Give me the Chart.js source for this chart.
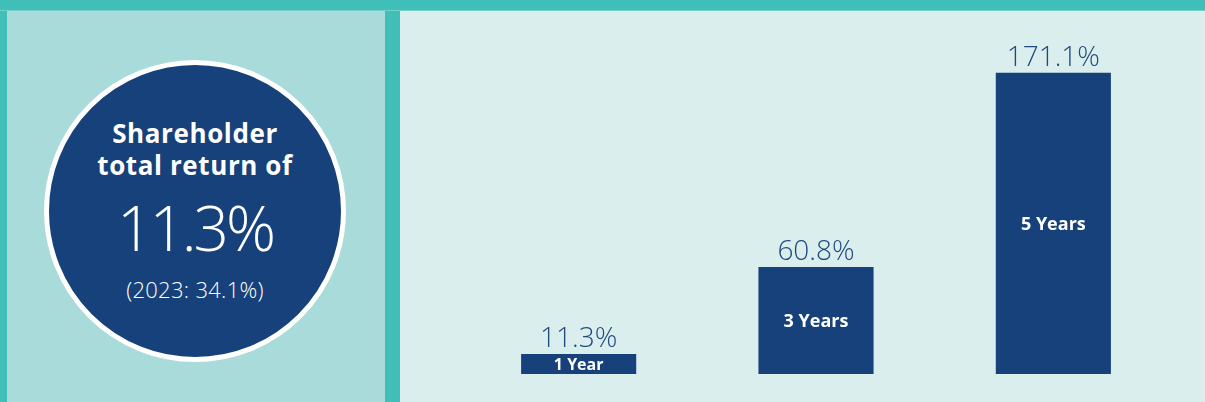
<!DOCTYPE html>
<html><head><meta charset="utf-8">
<script src="https://cdn.jsdelivr.net/npm/chart.js@4/dist/chart.umd.min.js"></script>
<style>
html,body{margin:0;padding:0;width:1205px;height:402px;overflow:hidden;background:#daeeed;font-family:"Open Sans",sans-serif;}
#top{position:absolute;left:0;top:0;width:1205px;height:10px;background:#3fbfb7;border-bottom:1px solid #74d0ca;}
#lp{position:absolute;left:0;top:11px;width:7px;height:391px;background:#3fbfb7;}
#lpanel{position:absolute;left:7px;top:11px;width:378px;height:391px;background:#a8dbd9;}
#rp{position:absolute;left:385px;top:11px;width:15px;height:391px;background:#3fbfb7;}
#circle{position:absolute;left:44px;top:60px;width:292px;height:292px;border-radius:50%;background:#16417a;border:5px solid #fff;color:#fff;text-align:center;}
.t1{position:absolute;left:0;width:100%;font-weight:700;font-size:26px;line-height:30px;letter-spacing:0.6px;}
.big{position:absolute;left:0;width:100%;font-weight:300;font-size:62px;line-height:70px;top:127px;letter-spacing:-3px;}
.sub{position:absolute;left:0;width:100%;font-weight:300;font-size:22px;line-height:26px;top:211px;letter-spacing:0.3px;}
#wrap{position:absolute;left:0;top:0;width:1205px;height:402px;}
</style></head><body>
<div id="top"></div><div id="lp"></div><div id="lpanel"></div><div id="rp"></div>
<div id="circle">
  <div class="t1" style="top:53px">Shareholder</div>
  <div class="t1" style="top:85px">total return of</div>
  <div class="big">11.3%</div>
  <div class="sub">(2023: 34.1%)</div>
</div>
<div id="wrap"><canvas id="c" width="1205" height="402"></canvas></div>
<script>
const categories = ["1 Year", "3 Years", "5 Years"];
const returns = [11.3, 60.8, 171.1];
const valueLabels = ["11.3%", "60.8%", "171.1%"];

const labelPlugin = {
  id: 'labels',
  afterDatasetsDraw(chart) {
    const ctx = chart.ctx;
    const meta = chart.getDatasetMeta(0);
    ctx.save();
    meta.data.forEach((bar, i) => {
      const x = bar.x, top = bar.y, base = bar.base;
      ctx.textAlign = 'center';
      ctx.textBaseline = 'alphabetic';
      ctx.fillStyle = '#1e4a7e';
      ctx.font = '300 28px "Open Sans"';
      ctx.fillText(valueLabels[i], x, top - 7);
      ctx.fillStyle = '#ffffff';
      ctx.textBaseline = 'middle';
      const h = base - top;
      ctx.font = (h < 30 ? '700 16px' : '700 18px') + ' "Open Sans"';
      ctx.fillText(categories[i], x, (top + base) / 2 + 1);
    });
    ctx.restore();
  }
};

new Chart(document.getElementById('c'), {
  type: 'bar',
  data: {
    labels: categories,
    datasets: [{ data: returns, backgroundColor: '#16417a', borderWidth: 0, barPercentage: 0.97, categoryPercentage: 0.5 }]
  },
  options: {
    responsive: false,
    animation: false,
    layout: { padding: { left: 460, right: 33, top: 22, bottom: 28 } },
    plugins: { legend: { display: false }, tooltip: { enabled: false } },
    scales: {
      x: { display: false },
      y: { display: false, min: 0, max: 200 }
    }
  },
  plugins: [labelPlugin]
});
</script>
</body></html>
